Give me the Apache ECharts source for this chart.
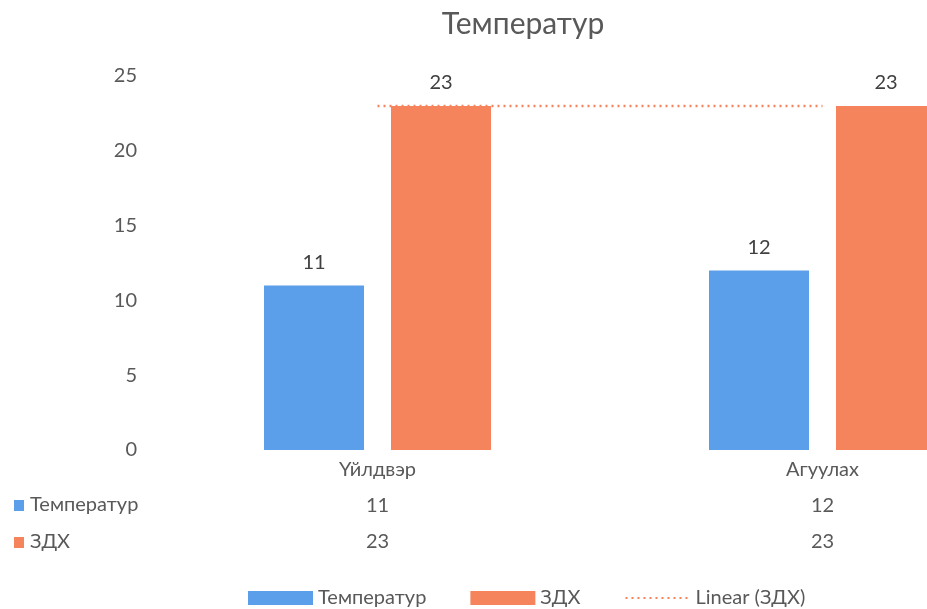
<!DOCTYPE html>
<html>
<head>
<meta charset="utf-8">
<style>
  html, body { margin: 0; padding: 0; background: #fff; overflow: hidden; }
  #chart { width: 1200px; height: 609px; }
</style>
<script src="https://cdn.jsdelivr.net/npm/echarts@6/dist/echarts.min.js"></script>
</head>
<body>
<div id="chart"></div>
<script>
// the original chart is wider than the window and gets cut at the right edge
const categories = ['Үйлдвэр', 'Агуулах'];
const tempValues = [11, 12];
const zdhValues = [23, 23];
const trendValues = [23, 23];
const seriesNames = ['Температур', 'ЗДХ', 'Linear (ЗДХ)'];

const BLUE = '#5B9EEA';
const ORANGE = '#F5845C';
const FONT = 'Lato';
const TEXT = '#595959';

const chart = echarts.init(document.getElementById('chart'));

chart.setOption({
  animation: false,
  textStyle: { fontFamily: FONT },
  title: {
    text: 'Температур',
    left: 518,
    textAlign: 'center',
    top: 4,
    textStyle: { fontFamily: FONT, fontSize: 30, fontWeight: 'normal', color: TEXT }
  },
  grid: { left: 155, top: 76, width: 890, height: 374 },
  xAxis: {
    type: 'category',
    data: categories,
    axisLine: { show: false },
    axisTick: { show: false },
    axisLabel: {
      margin: 2,
      formatter: (v, i) => `{c|${v}}\n{v|${tempValues[i]}}\n{v|${zdhValues[i]}}`,
      rich: {
        c: { fontFamily: FONT, fontSize: 20, color: TEXT, lineHeight: 36 },
        v: { fontFamily: FONT, fontSize: 20, color: TEXT, lineHeight: 36 }
      }
    }
  },
  yAxis: {
    type: 'value',
    min: 0,
    max: 25,
    interval: 5,
    splitLine: { show: false },
    axisLine: { show: false },
    axisTick: { show: false },
    axisLabel: { margin: 18, fontFamily: FONT, fontSize: 20, color: TEXT }
  },
  legend: {
    left: 243,
    top: 583,
    itemWidth: 65,
    itemHeight: 14,
    itemGap: 44,
    textStyle: { fontFamily: FONT, fontSize: 20, color: TEXT },
    data: [
      { name: seriesNames[0], icon: 'rect' },
      { name: seriesNames[1], icon: 'rect' },
      { name: seriesNames[2], itemStyle: { opacity: 0 } }
    ]
  },
  graphic: [
    { type: 'rect', left: 14, top: 500, shape: { width: 10, height: 11 }, style: { fill: BLUE } },
    { type: 'text', left: 30, top: 495, style: { text: seriesNames[0], font: `20px ${FONT}`, fill: TEXT } },
    { type: 'rect', left: 14, top: 537, shape: { width: 10, height: 11 }, style: { fill: ORANGE } },
    { type: 'text', left: 30, top: 532, style: { text: seriesNames[1], font: `20px ${FONT}`, fill: TEXT } }
  ],
  series: [
    {
      name: seriesNames[0],
      type: 'bar',
      data: tempValues,
      barWidth: 100,
      barGap: '27%',
      itemStyle: { color: BLUE },
      label: { show: true, position: 'top', distance: 13, fontFamily: FONT, fontSize: 20, color: '#404040' }
    },
    {
      name: seriesNames[1],
      type: 'bar',
      data: zdhValues,
      barWidth: 100,
      barGap: '27%',
      itemStyle: { color: ORANGE },
      label: { show: true, position: 'top', distance: 13, fontFamily: FONT, fontSize: 20, color: '#404040' }
    },
    {
      name: seriesNames[2],
      type: 'line',
      data: trendValues,
      symbol: 'none',
      z: 5,
      itemStyle: { color: ORANGE },
      lineStyle: { color: ORANGE, width: 2.5, type: [2, 4] }
    }
  ]
});
</script>
</body>
</html>
